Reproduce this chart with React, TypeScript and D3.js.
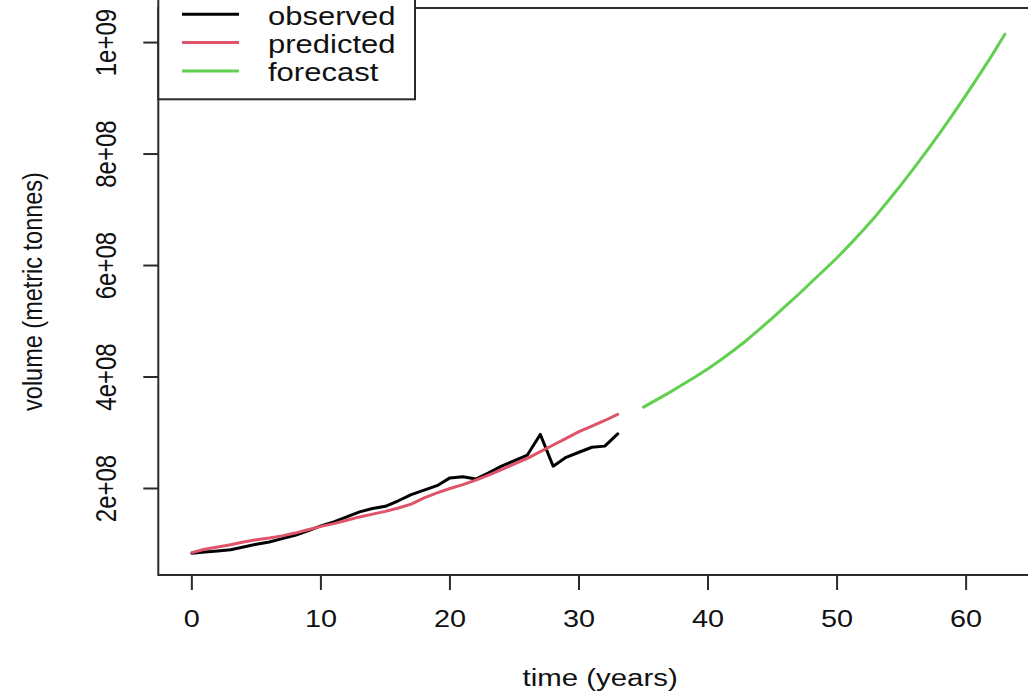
import React from 'react';
import * as d3 from 'd3';

// observed and predicted volumes, years 0..33 (units of 1e8 tonnes)
const obsYears = d3.range(0, 34);
const observed = [0.84, 0.86, 0.88, 0.9, 0.95, 1.0, 1.04, 1.1, 1.16, 1.24, 1.33, 1.4, 1.49, 1.58, 1.64, 1.68, 1.78, 1.89, 1.97, 2.05, 2.19, 2.21, 2.17, 2.28, 2.4, 2.5, 2.6, 2.97, 2.4, 2.56, 2.65, 2.74, 2.76, 2.98];
const predicted = [0.85, 0.91, 0.95, 0.99, 1.04, 1.08, 1.11, 1.15, 1.2, 1.26, 1.32, 1.37, 1.43, 1.49, 1.54, 1.59, 1.65, 1.72, 1.83, 1.92, 2.0, 2.07, 2.15, 2.24, 2.34, 2.44, 2.54, 2.66, 2.78, 2.9, 3.02, 3.12, 3.22, 3.33];
// forecast, years 35..63
const fcYears = d3.range(35, 64);
const forecast = [3.46, 3.59, 3.72, 3.86, 4.0, 4.15, 4.31, 4.48, 4.66, 4.86, 5.06, 5.27, 5.48, 5.7, 5.92, 6.14, 6.38, 6.63, 6.89, 7.17, 7.46, 7.76, 8.07, 8.39, 8.72, 9.06, 9.41, 9.77, 10.15];

const xTicks = [0, 10, 20, 30, 40, 50, 60];
const yTicks = [2e8, 4e8, 6e8, 8e8, 1e9];
const yTickLabels = ['2e+08', '4e+08', '6e+08', '8e+08', '1e+09'];
const legendLabels = ['observed', 'predicted', 'forecast'];
const colors = ['#000000', '#DF536B', '#61D04F'];

const W = 1028;
const H = 691;
const SX = 1.2; // text in the reference is stretched horizontally
const FONT = '"Liberation Sans", Arial, sans-serif';
const AX = '#2b2b2b';

export default function App() {
  const plot = { left: 158.3, right: 1050, top: 8, bottom: 575 };
  const x = d3.scaleLinear().domain([-2.6, 66.5]).range([plot.left, plot.right]);
  const y = d3.scaleLinear().domain([0.448e8, 10.62e8]).range([plot.bottom, plot.top]);

  const line = d3.line<[number, number]>()
    .x((d) => x(d[0]))
    .y((d) => y(d[1] * 1e8));

  const series = [
    obsYears.map((t, i) => [t, observed[i]] as [number, number]),
    obsYears.map((t, i) => [t, predicted[i]] as [number, number]),
    fcYears.map((t, i) => [t, forecast[i]] as [number, number]),
  ];

  // legend geometry
  const lg = { left: plot.left, right: 415, top: -14, bottom: 99.3, y0: 14.3, step: 28.3 };

  return (
    <svg width={W} height={H} style={{ position: 'absolute', left: 0, top: 0, background: '#fff' }}
      fontFamily={FONT}>
      {/* plot frame */}
      <rect x={plot.left} y={plot.top} width={plot.right - plot.left} height={plot.bottom - plot.top}
        fill="none" stroke={AX} strokeWidth={2} />

      {/* x axis */}
      {xTicks.map((t) => (
        <g key={t}>
          <line x1={x(t)} x2={x(t)} y1={plot.bottom} y2={plot.bottom + 15} stroke={AX} strokeWidth={2} />
          <text transform={`translate(${x(t)},627) scale(${SX},1)`} textAnchor="middle" fontSize={24} fill="#111">{t}</text>
        </g>
      ))}
      <text transform={`translate(${(plot.left + plot.right) / 2 - 4},686) scale(${SX},1)`} textAnchor="middle"
        fontSize={24.5} fill="#111">time (years)</text>

      {/* y axis */}
      {yTicks.map((v, i) => (
        <g key={v}>
          <line x1={plot.left - 15} x2={plot.left} y1={y(v)} y2={y(v)} stroke={AX} strokeWidth={2} />
          <text transform={`translate(116,${y(v)}) rotate(-90) scale(1,${SX})`} textAnchor="middle"
            fontSize={24} fill="#111">{yTickLabels[i]}</text>
        </g>
      ))}
      <text transform={`translate(42,${(plot.top + plot.bottom) / 2}) rotate(-90) scale(1,${SX})`}
        textAnchor="middle" fontSize={23.5} fill="#111">volume (metric tonnes)</text>

      {/* series */}
      {series.map((s, i) => (
        <path key={i} d={line(s) || ''} fill="none" stroke={colors[i]} strokeWidth={3}
          strokeLinejoin="round" strokeLinecap="round" />
      ))}

      {/* legend */}
      <rect x={lg.left} y={lg.top} width={lg.right - lg.left} height={lg.bottom - lg.top}
        fill="#fff" stroke={AX} strokeWidth={2} />
      {legendLabels.map((name, i) => {
        const ly = lg.y0 + i * lg.step;
        return (
          <g key={name}>
            <line x1={182} x2={239} y1={ly} y2={ly} stroke={colors[i]} strokeWidth={3} />
            <text transform={`translate(268,${ly + 10.5}) scale(1.24,1)`} fontSize={25} fill="#111">{name}</text>
          </g>
        );
      })}
    </svg>
  );
}
